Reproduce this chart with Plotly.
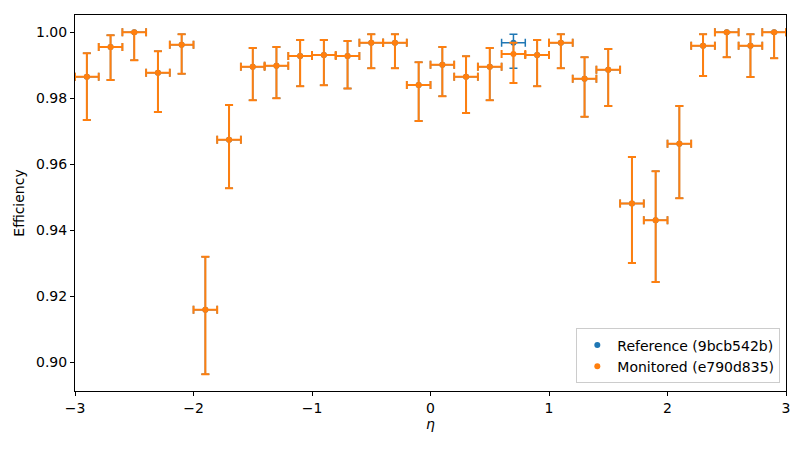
import plotly.graph_objects as go

# eta bin centres (bin width 0.2)
eta = [-2.9, -2.7, -2.5, -2.3, -2.1, -1.9, -1.7, -1.5, -1.3, -1.1,
       -0.9, -0.7, -0.5, -0.3, -0.1, 0.1, 0.3, 0.5, 0.7, 0.9,
       1.1, 1.3, 1.5, 1.7, 1.9, 2.1, 2.3, 2.5, 2.7, 2.9]
eta_halfwidth = 0.1

# monitored efficiency with upper/lower error bounds
mon_eff = [0.9865, 0.9955, 1.0000, 0.9877, 0.9962, 0.9159, 0.9674, 0.9895, 0.9898, 0.9928,
           0.9931, 0.9928, 0.9968, 0.9968, 0.9840, 0.9901, 0.9865, 0.9895, 0.9934, 0.9931,
           0.9968, 0.9859, 0.9886, 0.9481, 0.9430, 0.9662, 0.9959, 1.0000, 0.9959, 1.0000]
mon_hi = [0.9936, 0.9991, 1.0000, 0.9942, 0.9994, 0.9320, 0.9779, 0.9952, 0.9955, 0.9976,
          0.9976, 0.9973, 0.9994, 0.9994, 0.9909, 0.9955, 0.9927, 0.9952, 0.9968, 0.9976,
          0.9994, 0.9924, 0.9949, 0.9622, 0.9579, 0.9776, 0.9994, 1.0000, 0.9994, 1.0000]
mon_lo = [0.9734, 0.9855, 0.9915, 0.9758, 0.9874, 0.8964, 0.9527, 0.9794, 0.9800, 0.9836,
          0.9839, 0.9829, 0.9891, 0.9891, 0.9731, 0.9806, 0.9755, 0.9794, 0.9846, 0.9836,
          0.9891, 0.9744, 0.9776, 0.9301, 0.9243, 0.9497, 0.9867, 0.9924, 0.9864, 0.9921]

# reference efficiency: identical to monitored except the eta=0.7 bin
ref_eff = mon_eff[:18] + [0.9968] + mon_eff[19:]
ref_hi = mon_hi[:18] + [0.9994] + mon_hi[19:]
ref_lo = mon_lo[:18] + [0.9891] + mon_lo[19:]

series = [
    ("Reference (9bcb542b)", "#1f77b4", ref_eff, ref_hi, ref_lo, 1.5),
    ("Monitored (e790d835)", "#ff7f0e", mon_eff, mon_hi, mon_lo, 2),
]

fig = go.Figure()
for name, color, eff, hi, lo, lw in series:
    fig.add_trace(go.Scatter(
        x=eta, y=eff, mode="markers", name=name,
        marker=dict(color=color, size=6),
        error_x=dict(type="constant", value=eta_halfwidth, color=color, thickness=lw, width=4),
        error_y=dict(type="data", symmetric=False,
                     array=[h - e for h, e in zip(hi, eff)],
                     arrayminus=[e - l for e, l in zip(eff, lo)],
                     color=color, thickness=lw, width=4),
    ))

axis_style = dict(showline=True, linecolor="black", linewidth=1, mirror=True,
                  ticks="outside", ticklen=4, tickcolor="black", showgrid=False,
                  zeroline=False, automargin=False,
                  tickfont=dict(family="DejaVu Sans", size=14, color="black"))

# page body has an 8px margin, so the figure is sized to fit inside it
fig.update_layout(
    width=790, height=434,
    margin=dict(l=67, r=12, t=7, b=51),
    paper_bgcolor="white", plot_bgcolor="white",
    font=dict(family="DejaVu Sans", size=14, color="black"),
    xaxis=dict(range=[-3, 3], dtick=1, tick0=-3,
               title=dict(text="<i>η</i>", standoff=4,
                          font=dict(family="DejaVu Sans", size=14)), **axis_style),
    yaxis=dict(range=[0.8913, 1.0052], dtick=0.02, tick0=0.9, tickformat=".2f",
               title=dict(text="Efficiency", standoff=8,
                          font=dict(family="DejaVu Sans", size=14)), **axis_style),
    legend=dict(x=0.992, y=0.02, xanchor="right", yanchor="bottom",
                bgcolor="rgba(255,255,255,0.8)", bordercolor="#cccccc", borderwidth=1,
                font=dict(family="DejaVu Sans", size=14)),
    showlegend=True,
)

fig.write_html("out.html")
